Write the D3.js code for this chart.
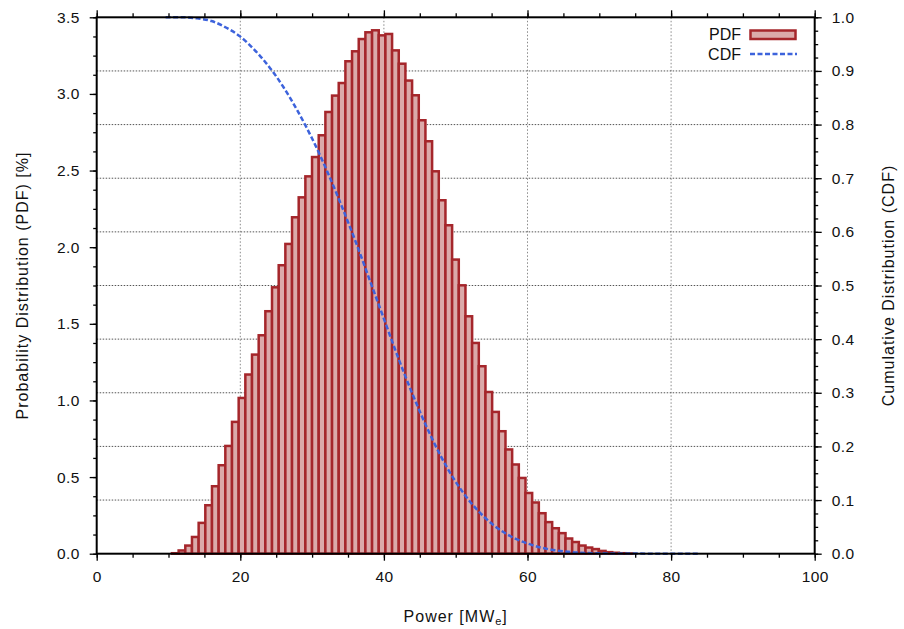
<!DOCTYPE html>
<html>
<head>
<meta charset="utf-8">
<script src="https://cdn.jsdelivr.net/npm/d3@7"></script>
<style>
  body { margin: 0; background: #fff; }
  svg { display: block; font-family: "Liberation Sans", Arial, sans-serif; }
</style>
</head>
<body>
<svg id="chart"></svg>
<script>
// histogram: lower edge of first bin and bin width, in MWe
var binStart = 9.554
var binWidth = 0.929
// PDF per bin, in %
var pdfValues = [0.004, 0.011, 0.029, 0.061, 0.117, 0.209, 0.324, 0.448, 0.585, 0.711,
                 0.868, 1.024, 1.177, 1.307, 1.433, 1.590, 1.746, 1.890, 2.029, 2.203,
                 2.333, 2.470, 2.596, 2.738, 2.890, 2.997, 3.079, 3.221, 3.286, 3.366,
                 3.410, 3.423, 3.390, 3.399, 3.292, 3.205, 3.095, 2.999, 2.836, 2.699,
                 2.503, 2.314, 2.151, 1.927, 1.759, 1.557, 1.383, 1.231, 1.063, 0.933,
                 0.807, 0.688, 0.590, 0.502, 0.404, 0.342, 0.272, 0.214, 0.174, 0.142,
                 0.107, 0.084, 0.061, 0.048, 0.038, 0.026, 0.018, 0.014, 0.011, 0.009,
                 0.007, 0.005, 0.004, 0.003, 0.003, 0.002, 0.002, 0.001, 0.001, 0.001]
// CDF curve
var cdfPower = [9.6, 12, 14, 16, 18, 20, 22, 24, 26, 28, 30, 32, 34, 36, 38, 40, 42, 44,
                46, 48, 50, 52, 54, 56, 58, 60, 62, 64, 66, 68, 70, 75, 80, 83.9]
var cdfValues = [1.000, 1.000, 0.998, 0.993, 0.981, 0.964, 0.939, 0.908, 0.870, 0.825,
                 0.774, 0.716, 0.652, 0.584, 0.511, 0.438, 0.365, 0.297, 0.235, 0.180,
                 0.134, 0.097, 0.068, 0.046, 0.030, 0.019, 0.011, 0.006, 0.003, 0.0015,
                 0.0008, 0.0002, 0, 0]
var xTicks = [0, 20, 40, 60, 80, 100]
var pdfTicks = [0, 0.5, 1.0, 1.5, 2.0, 2.5, 3.0, 3.5]
var cdfTicks = [0, 0.1, 0.2, 0.3, 0.4, 0.5, 0.6, 0.7, 0.8, 0.9, 1.0]

var dimensions = {
    width: 904,
    height: 629,
    margin: { top: 17.3, bottom: 75.3, right: 89.3, left: 96.7 }
}
var plotLeft = dimensions.margin.left
var plotRight = dimensions.width - dimensions.margin.right
var plotTop = dimensions.margin.top
var plotBottom = dimensions.height - dimensions.margin.bottom

var svg = d3.select("#chart")
            .attr("width", dimensions.width)
            .attr("height", dimensions.height)

var xScale = d3.scaleLinear().domain([0, 100]).range([plotLeft, plotRight])
var yScale = d3.scaleLinear().domain([0, 3.5]).range([plotBottom, plotTop])
var y2Scale = d3.scaleLinear().domain([0, 1]).range([plotBottom, plotTop])

var bins = pdfValues.map((v, i) => ({x0: binStart + i * binWidth, value: v}))
var cdf = cdfPower.map((p, i) => ({power: p, value: cdfValues[i]}))

// grid
svg.append("g").selectAll("line")
   .data(xTicks.slice(1, -1))
   .enter().append("line")
   .attr("x1", d => xScale(d)).attr("x2", d => xScale(d))
   .attr("y1", plotTop).attr("y2", plotBottom)
   .style("stroke", "#8a8a8a").style("stroke-width", 1).style("stroke-dasharray", "1.5,2")

svg.append("g").selectAll("line")
   .data(cdfTicks.slice(1, -1))
   .enter().append("line")
   .attr("x1", plotLeft).attr("x2", plotRight)
   .attr("y1", d => y2Scale(d)).attr("y2", d => y2Scale(d))
   .style("stroke", "#555").style("stroke-width", 1).style("stroke-dasharray", "1.5,1.5")

// histogram bars
var barW = xScale(binWidth) - xScale(0)
svg.append("g").selectAll("rect")
   .data(bins)
   .enter().append("rect")
   .attr("x", d => xScale(d.x0))
   .attr("width", barW)
   .attr("y", d => yScale(d.value) + 1.2)
   .attr("height", d => Math.max(0, plotBottom - yScale(d.value) - 1.2))
   .style("fill", "#dbaaaa")
   .style("stroke", "#a5262b")
   .style("stroke-width", 2.5)

// CDF line
var line = d3.line()
             .x(d => xScale(d.power))
             .y(d => y2Scale(d.value))
             .curve(d3.curveMonotoneX)

svg.append("path")
   .datum(cdf)
   .attr("d", line)
   .style("fill", "none")
   .style("stroke", "#3d63dc")
   .style("stroke-width", 2.5)
   .style("stroke-dasharray", "5,2.5")

// axes
function minor(lo, hi, step) { return d3.range(lo, hi + step / 2, step) }

var xAxisgen = d3.axisBottom(xScale).tickValues(xTicks).tickFormat(d3.format("d")).tickSizeInner(7).tickSizeOuter(0).tickPadding(10)
var xAxis = svg.append("g").attr("transform", `translate(0,${plotBottom})`).call(xAxisgen)
var xMinor = svg.append("g").attr("transform", `translate(0,${plotBottom})`)
                .call(d3.axisBottom(xScale).tickValues(minor(0, 100, 5)).tickFormat("").tickSizeInner(4).tickSizeOuter(0))
var xTop = svg.append("g").attr("transform", `translate(0,${plotTop})`)
              .call(d3.axisTop(xScale).tickValues(xTicks).tickFormat("").tickSizeInner(7).tickSizeOuter(0))
var xTopMinor = svg.append("g").attr("transform", `translate(0,${plotTop})`)
                   .call(d3.axisTop(xScale).tickValues(minor(0, 100, 5)).tickFormat("").tickSizeInner(4).tickSizeOuter(0))

var yAxisgen = d3.axisLeft(yScale).tickValues(pdfTicks).tickFormat(d3.format(".1f")).tickSizeInner(7).tickSizeOuter(0).tickPadding(10)
var yAxis = svg.append("g").attr("transform", `translate(${plotLeft},0)`).call(yAxisgen)
var yMinor = svg.append("g").attr("transform", `translate(${plotLeft},0)`)
                .call(d3.axisLeft(yScale).tickValues(minor(0, 3.5, 0.125)).tickFormat("").tickSizeInner(3.5).tickSizeOuter(0))

var y2Axisgen = d3.axisRight(y2Scale).tickValues(cdfTicks).tickFormat(d3.format(".1f")).tickSizeInner(7).tickSizeOuter(0).tickPadding(10)
var y2Axis = svg.append("g").attr("transform", `translate(${plotRight},0)`).call(y2Axisgen)
var y2Minor = svg.append("g").attr("transform", `translate(${plotRight},0)`)
                 .call(d3.axisRight(y2Scale).tickValues(minor(0, 1, 0.025)).tickFormat("").tickSizeInner(3.5).tickSizeOuter(0))

svg.selectAll(".domain").remove()
svg.selectAll(".tick line").style("stroke", "#000").style("stroke-width", 1.3)
svg.selectAll(".tick text").style("font-size", "15.5px").style("fill", "#111")
    .style("font-family", "'Liberation Sans', Arial, sans-serif").style("letter-spacing", "0.4px")

// frame
svg.append("rect")
   .attr("x", plotLeft).attr("y", plotTop)
   .attr("width", plotRight - plotLeft).attr("height", plotBottom - plotTop)
   .style("fill", "none").style("stroke", "#000").style("stroke-width", 2)

// axis titles
var xTitle = svg.append("text")
                .attr("x", (plotLeft + plotRight) / 2).attr("y", 622)
                .attr("text-anchor", "middle").style("font-size", "16px").style("fill", "#111")
                .style("letter-spacing", "1px")
xTitle.append("tspan").text("Power [MW")
xTitle.append("tspan").attr("dy", 3).style("font-size", "11px").text("e")
xTitle.append("tspan").attr("dy", -3).text("]")

svg.append("text")
   .attr("transform", `translate(28,${(plotTop + plotBottom) / 2}) rotate(-90)`)
   .attr("text-anchor", "middle").style("font-size", "16px").style("fill", "#111")
   .style("letter-spacing", "1px")
   .text("Probability Distribution (PDF) [%]")

svg.append("text")
   .attr("transform", `translate(894,${(plotTop + plotBottom) / 2}) rotate(-90)`)
   .attr("text-anchor", "middle").style("font-size", "16px").style("fill", "#111")
   .style("letter-spacing", "1px")
   .text("Cumulative Distribution (CDF)")

// legend
var legend = svg.append("g")
legend.append("text").attr("x", 741).attr("y", 40).attr("text-anchor", "end")
      .style("font-size", "16px").style("fill", "#111").text("PDF")
legend.append("rect").attr("x", 750.5).attr("y", 30.5).attr("width", 45).attr("height", 8.5)
      .style("fill", "#dbaaaa").style("stroke", "#a5262b").style("stroke-width", 2.5)
legend.append("text").attr("x", 741).attr("y", 60).attr("text-anchor", "end")
      .style("font-size", "16px").style("fill", "#111").text("CDF")
legend.append("line").attr("x1", 750).attr("x2", 797).attr("y1", 54).attr("y2", 54)
      .style("stroke", "#3d63dc").style("stroke-width", 2.5).style("stroke-dasharray", "5,2.5")
</script>
</body>
</html>
